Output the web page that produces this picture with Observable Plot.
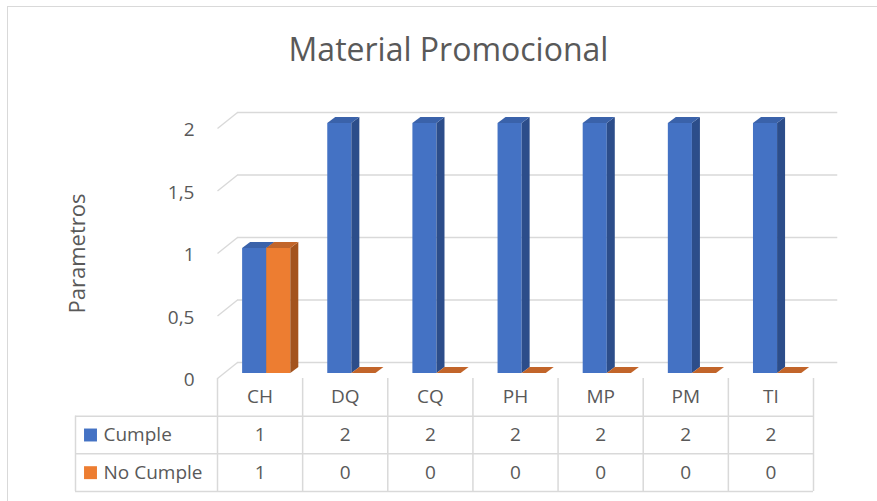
<!DOCTYPE html>
<html>
<head>
<meta charset="utf-8">
<script src="https://cdn.jsdelivr.net/npm/d3@7"></script>
<script src="https://cdn.jsdelivr.net/npm/@observablehq/plot@0.6"></script>
<style>
  html, body { margin: 0; padding: 0; background: #fff; }
  #chart { position: relative; width: 877px; height: 501px; overflow: hidden; background: #fff; font-family: "Open Sans", sans-serif; }
  #border { position: absolute; left: 7px; top: 6px; width: 900px; height: 600px; border: 1.5px solid #D9D9D9; box-sizing: border-box; }
  #title { position: absolute; left: 7px; width: 883px; top: 27px; text-align: center; font-size: 32px; color: #595959; line-height: 44px; }
  .layer { position: absolute; left: 0; }
</style>
</head>
<body>
<div id="chart">
  <div id="border"></div>
  <div id="title">Material Promocional</div>
  <div id="plot" class="layer" style="top:0"></div>
  <div id="table" class="layer" style="top:378px"></div>
</div>
<script>
// Categories and series values
const categories = ["CH", "DQ", "CQ", "PH", "MP", "PM", "TI"];
const seriesNames = ["Cumple", "No Cumple"];
const cumple = [1, 2, 2, 2, 2, 2, 2];
const noCumple = [1, 0, 0, 0, 0, 0, 0];
const yTicks = [0, 0.5, 1, 1.5, 2];
const yLabel = "Parametros";

// Layout
const W = 877, H = 400;
const X0 = 217, X1 = 813;          // plot frame (and data table) left/right
const Y_TOP = 123, Y_BASE = 373;   // value 2 and value 0
const pxX = (X1 - X0) / categories.length;
const pxY = (Y_BASE - Y_TOP) / 2;

// Pseudo-3D depths, converted into data units
const FLOOR_DX = 20 / pxX, FLOOR_DY = 16 / pxY, FLOOR_FRONT = 5;
const BAR_DX = 8 / pxX, BAR_DY = 6 / pxY;
const BAR_OFFSET = [0.295, 0.578], BAR_W = 0.283;

const palette = [
  {front: "#4472C4", side: "#2C4D8A", top: "#3A62AA"},
  {front: "#ED7D31", side: "#A3531E", top: "#C2652A"}
];
const grid = "#D9D9D9";
const textColor = "#595959";
const fmt = d => String(d).replace(".", ",");

const seriesValues = [cumple, noCumple];
const bars = seriesValues.flatMap((vals, s) =>
  vals.map((v, i) => {
    const left = i + BAR_OFFSET[s];
    return {id: `${s}-${i}`, s, v, left, right: left + BAR_W};
  })
);

function barMarks(s) {
  const data = bars.filter(b => b.s === s);
  const side = data.flatMap(b => [
    {id: b.id, x: b.right, y1: 0, y2: b.v},
    {id: b.id, x: b.right + BAR_DX, y1: BAR_DY, y2: b.v + BAR_DY}
  ]);
  const top = data.flatMap(b => [
    {id: b.id, y: b.v, x1: b.left, x2: b.right},
    {id: b.id, y: b.v + BAR_DY, x1: b.left + BAR_DX, x2: b.right + BAR_DX}
  ]);
  return [
    Plot.rect(data, {x1: "left", x2: "right", y1: 0, y2: "v", fill: palette[s].front}),
    Plot.areaY(side, {x: "x", y1: "y1", y2: "y2", z: "id", fill: palette[s].side, curve: "linear"}),
    Plot.areaX(top, {y: "y", x1: "x1", x2: "x2", z: "id", fill: palette[s].top, curve: "linear"})
  ];
}

const chart = Plot.plot({
  width: W,
  height: H,
  marginLeft: X0,
  marginRight: W - X1,
  marginTop: Y_TOP,
  marginBottom: H - Y_BASE,
  style: {background: "transparent", color: textColor, fontFamily: "Open Sans, sans-serif"},
  x: {domain: [0, categories.length], axis: null},
  y: {domain: [0, 2], axis: null},
  marks: [
    // back wall gridlines
    Plot.ruleY(yTicks, {x1: FLOOR_DX, x2: categories.length + FLOOR_DX + 0.05, dy: FLOOR_FRONT, y: d => d + FLOOR_DY, stroke: grid, strokeWidth: 1.5}),
    // side wall slants
    Plot.link(yTicks, {x1: 0, y1: d => d, x2: FLOOR_DX, y2: d => d + FLOOR_DY, dy: FLOOR_FRONT, stroke: grid, strokeWidth: 1.5}),
    ...barMarks(0),
    ...barMarks(1),
    Plot.axisY(yTicks, {tickSize: 0, tickPadding: 23, tickFormat: fmt, fontSize: 19, dy: 6.5, label: null}),
    Plot.text([yLabel], {frameAnchor: "left", textAnchor: "middle", dx: -140, dy: 5, rotate: -90, fontSize: 22, fill: textColor})
  ]
});
document.getElementById("plot").append(chart);

// Data table under the chart
const LEFT = (75 - X0) / pxX;
const headerCells = categories.map((c, i) => ({x: i + 0.5, y: 0.5, t: c}));
const valueCells = seriesValues.flatMap((vals, s) => vals.map((v, i) => ({x: i + 0.5, y: s + 1.5, t: fmt(v)})));
const legendRows = seriesNames.map((n, s) => ({n, s, y: s + 1.5}));

const table = Plot.plot({
  width: W,
  height: 123,
  style: {background: "transparent", color: textColor, fontFamily: "Open Sans, sans-serif"},
  x: {domain: [0, categories.length], range: [X0, X1], axis: null},
  y: {domain: [0, 3], range: [0, 113], axis: null},
  marks: [
    Plot.ruleX(d3.range(categories.length + 1), {y1: 0, y2: 3, stroke: grid, strokeWidth: 1.5}),
    Plot.ruleX([LEFT], {y1: 1, y2: 3, stroke: grid, strokeWidth: 1.5}),
    Plot.ruleY([1, 2, 3], {x1: LEFT, x2: categories.length, stroke: grid, strokeWidth: 1.5}),
    Plot.text(headerCells, {x: "x", y: "y", text: "t", fontSize: 19, fill: textColor}),
    Plot.text(valueCells, {x: "x", y: "y", text: "t", fontSize: 19, fill: textColor}),
    Plot.dot(legendRows, {x: LEFT, y: "y", dx: 15, symbol: "square", r: 7.3, fill: d => palette[d.s].front, stroke: null}),
    Plot.text(legendRows, {x: LEFT, y: "y", dx: 28, text: "n", textAnchor: "start", fontSize: 19, fill: textColor})
  ]
});
document.getElementById("table").append(table);
</script>
</body>
</html>
